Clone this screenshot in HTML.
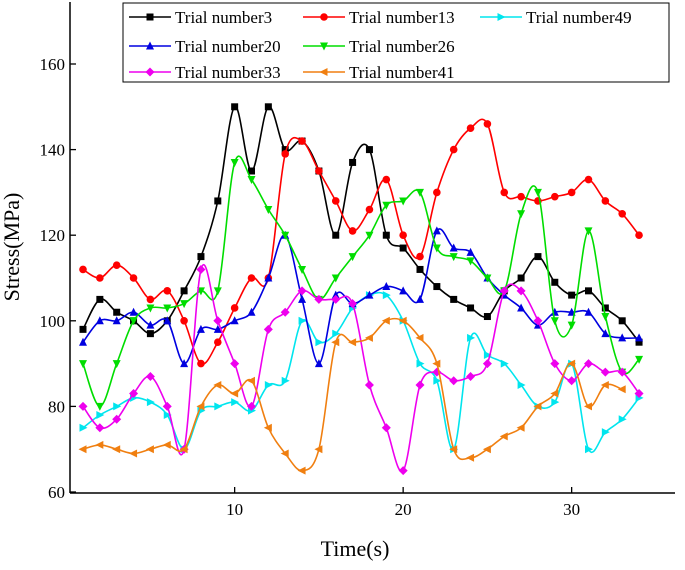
<!DOCTYPE html>
<html><head><meta charset="utf-8"><style>
body{margin:0;background:#fff;}
svg text{font-family:"Liberation Serif",serif;}
</style></head><body>
<svg id="chart" width="685" height="565" xmlns="http://www.w3.org/2000/svg">
<g id="plot"></g>
<g id="axes"></g>
<g id="legend"></g>
</svg>
<script>
const xTicks=[10,20,30];
const yTicks=[60,80,100,120,140,160];
const seriesNames=["Trial number3","Trial number13","Trial number49","Trial number20","Trial number26","Trial number33","Trial number41"];
const trial3=[98,105,102,100,97,100,107,115,128,150,135,150,140,142,135,120,137,140,120,117,112,108,105,103,101,107,110,115,109,106,107,103,100,95];
const trial13=[112,110,113,110,105,107,100,90,95,103,110,110,139,142,135,128,121,126,133,120,115,130,140,145,146,130,129,128,129,130,133,128,125,120];
const trial49=[75,78,80,82,81,78,70,79,80,81,79,85,86,100,95,97,103,106,106,100,90,86,70,96,92,90,85,80,81,90,70,74,77,82];
const trial20=[95,100,100,102,99,100,90,98,98,100,102,110,120,105,90,106,104,106,108,107,105,121,117,116,110,106,103,99,102,102,102,97,96,96];
const trial26=[90,80,90,100,103,103,104,107,107,137,133,126,120,112,105,110,115,120,127,128,130,117,115,114,110,107,125,130,100,99,121,101,88,91];
const trial33=[80,75,77,83,87,80,70,112,100,90,80,98,102,107,105,105,104,85,75,65,85,88,86,87,90,107,107,100,90,86,90,88,88,83];
const trial41=[70,71,70,69,70,71,70,80,85,83,86,75,69,65,70,95,95,96,100,100,96,90,70,68,70,73,75,80,83,90,80,85,84];

const colors=["#000000","#ff0000","#00e5ee","#0000e0","#00dd00","#ee00ee","#f07f10"];
const markers=["square","circle","tri-right","tri-up","tri-down","diamond","tri-left"];
const allData=[trial3,trial13,trial49,trial20,trial26,trial33,trial41];

const X0=70,X1=675,Y0=493,Y1=2;
function sx(v){return 83+(v-1)*16.85;}
function sy(v){return 492-(v-60)*4.28;}
const NS="http://www.w3.org/2000/svg";
function el(t,a,p){const e=document.createElementNS(NS,t);for(const k in a)e.setAttribute(k,a[k]);p.appendChild(e);return e;}
const plot=document.getElementById('plot'),axes=document.getElementById('axes'),leg=document.getElementById('legend');

function spline(pts){
  let d="M"+pts[0][0]+","+pts[0][1];
  for(let i=0;i<pts.length-1;i++){
    const p0=pts[Math.max(0,i-1)],p1=pts[i],p2=pts[i+1],p3=pts[Math.min(pts.length-1,i+2)];
    const c1x=p1[0]+(p2[0]-p0[0])/6,c1y=p1[1]+(p2[1]-p0[1])/6;
    const c2x=p2[0]-(p3[0]-p1[0])/6,c2y=p2[1]-(p3[1]-p1[1])/6;
    d+=" C"+c1x.toFixed(1)+","+c1y.toFixed(1)+" "+c2x.toFixed(1)+","+c2y.toFixed(1)+" "+p2[0].toFixed(1)+","+p2[1].toFixed(1);
  }
  return d;
}
function marker(kind,x,y,c,parent){
  const r=3.5;let e;
  if(kind==="square")e=el('rect',{x:x-r,y:y-r,width:2*r,height:2*r,fill:c},parent);
  else if(kind==="circle")e=el('circle',{cx:x,cy:y,r:r+0.3,fill:c},parent);
  else{
    let p;
    if(kind==="tri-up")p=[[x,y-r-1],[x-r-0.5,y+r],[x+r+0.5,y+r]];
    if(kind==="tri-down")p=[[x,y+r+1],[x-r-0.5,y-r],[x+r+0.5,y-r]];
    if(kind==="tri-right")p=[[x+r+1,y],[x-r,y-r-0.5],[x-r,y+r+0.5]];
    if(kind==="tri-left")p=[[x-r-1,y],[x+r,y-r-0.5],[x+r,y+r+0.5]];
    if(kind==="diamond")p=[[x,y-r-1],[x+r+1,y],[x,y+r+1],[x-r-1,y]];
    e=el('polygon',{points:p.map(q=>q.join(",")).join(" "),fill:c},parent);
  }
  return e;
}
allData.forEach((data,si)=>{
  const g=el('g',{},plot);
  
  
  const pts=data.map((v,i)=>[sx(i+1),sy(v)]);
  const path=el('path',{d:spline(pts),fill:'none',stroke:colors[si],'stroke-width':1.6},g);
  
  
  pts.forEach(p=>{
    const m=marker(markers[si],p[0],p[1],colors[si],g);
    
    
  });
});
// axes
el('line',{x1:X0,y1:Y1,x2:X0,y2:Y0,stroke:'#000','stroke-width':1.5},axes);
el('line',{x1:X0,y1:Y0,x2:X1,y2:Y0,stroke:'#000','stroke-width':1.5},axes);
xTicks.forEach(t=>{
  el('line',{x1:sx(t),y1:Y0,x2:sx(t),y2:Y0-6,stroke:'#000','stroke-width':1.3},axes);
  const tx=el('text',{x:sx(t),y:Y0+22,'font-size':17,'text-anchor':'middle'},axes);
  tx.textContent=t;
  
  
});
yTicks.forEach(t=>{
  el('line',{x1:X0,y1:sy(t),x2:X0+6,y2:sy(t),stroke:'#000','stroke-width':1.3},axes);
  const tx=el('text',{x:X0-5,y:sy(t)+6,'font-size':17,'text-anchor':'end'},axes);
  tx.textContent=t;
  
  
});
const xt=el('text',{x:355,y:556,'font-size':22,'text-anchor':'middle'},axes);
xt.textContent="Time(s)";


const yt=el('text',{x:0,y:0,'font-size':22,'text-anchor':'middle',transform:'translate(19,247) rotate(-90)'},axes);
yt.textContent="Stress(MPa)";


// legend
const box=el('rect',{x:123,y:3,width:546,height:79,fill:'#fff',stroke:'#000','stroke-width':1},leg);


const legPos=[[129,17],[303,17],[480,17],[129,46],[303,46],[129,72],[303,72]];
seriesNames.forEach((n,i)=>{
  const g=el('g',{},leg);
  
  
  const [lx,ly]=legPos[i];
  el('line',{x1:lx,y1:ly,x2:lx+42,y2:ly,stroke:colors[i],'stroke-width':1.6},g);
  marker(markers[i],lx+21,ly,colors[i],g);
  const t=el('text',{x:lx+46,y:ly+6,'font-size':17},g);
  t.textContent=n;
});
</script>
</body></html>
